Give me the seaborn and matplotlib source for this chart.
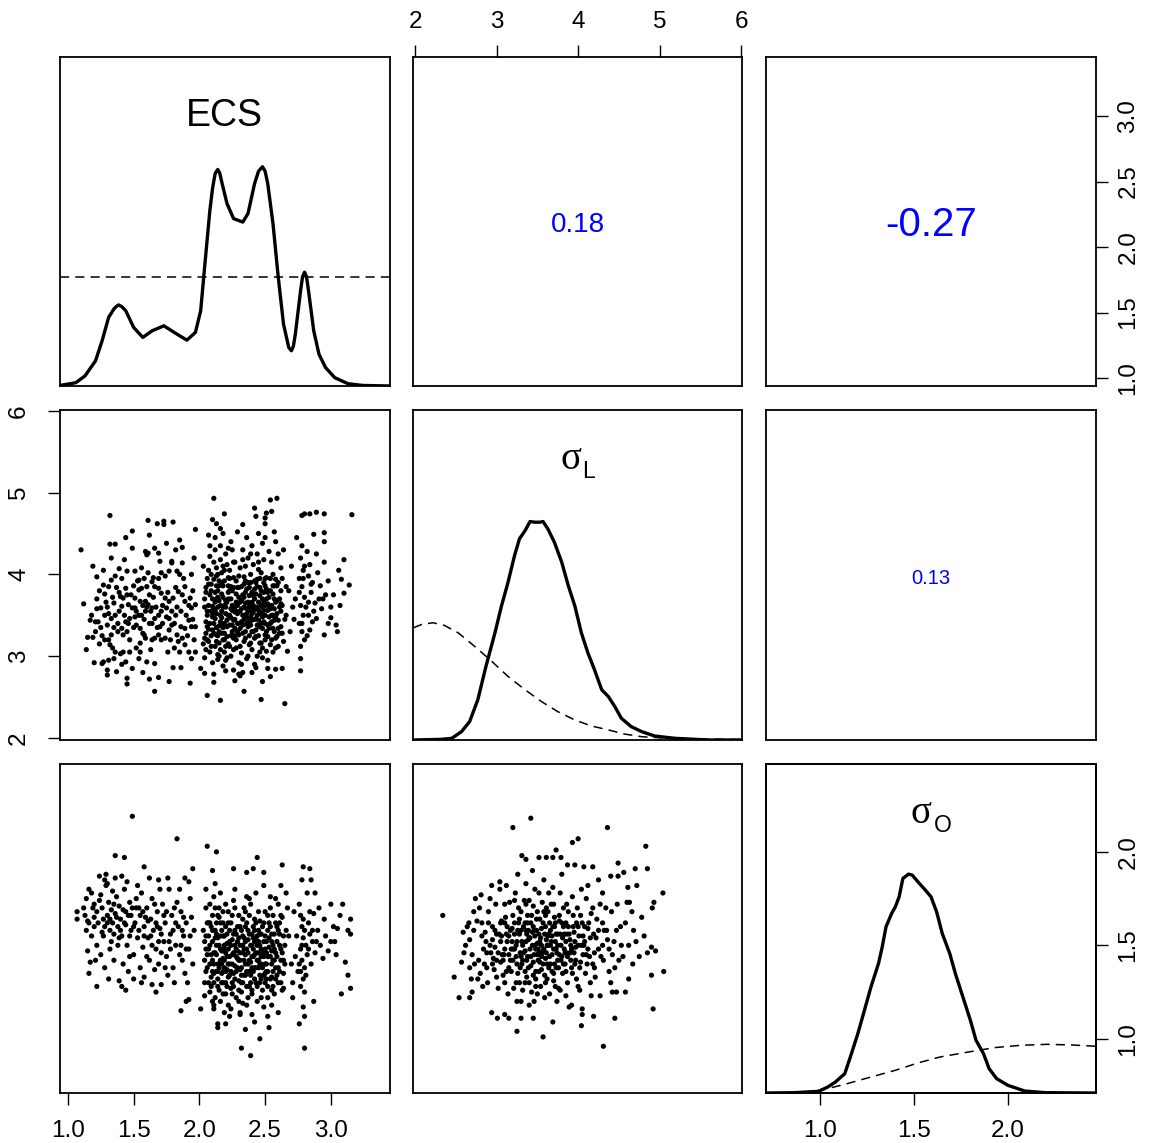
import matplotlib
matplotlib.use("Agg")
import matplotlib.pyplot as plt
import seaborn as sns

# ---------------- data ----------------
var_names = ["ECS", "sigma_L", "sigma_O"]
ecs_lim = (0.94, 3.45)
sigL_lim = (1.975, 6.01)
sigO_lim = (0.71, 2.47)

ecs_ticks = [1.0, 1.5, 2.0, 2.5, 3.0]
sigL_ticks = [2, 3, 4, 5, 6]
sigO_ticks = [1.0, 1.5, 2.0]

corr_ecs_sigL = "0.18"
corr_ecs_sigO = "-0.27"
corr_sigL_sigO = "0.13"

# posterior densities (diagonal)
ecs_grid = [0.94, 1.06, 1.13, 1.21, 1.26, 1.31, 1.35, 1.37, 1.385, 1.41, 1.44, 1.50, 1.57, 1.64, 1.73,
            1.82, 1.905, 1.97, 2.01, 2.04, 2.08, 2.10, 2.12, 2.14, 2.155, 2.17, 2.21, 2.26, 2.33, 2.37,
            2.42, 2.45, 2.48, 2.50, 2.52, 2.56, 2.60, 2.64, 2.68, 2.70, 2.715, 2.73, 2.77, 2.785, 2.80,
            2.815, 2.83, 2.87, 2.91, 2.96, 3.03, 3.13, 3.24, 3.45]
ecs_dens = [0.003, 0.017, 0.052, 0.13, 0.233, 0.355, 0.398, 0.412, 0.419, 0.410, 0.389, 0.303, 0.251, 0.285, 0.311,
            0.272, 0.237, 0.277, 0.389, 0.614, 0.908, 1.02, 1.098, 1.119, 1.10, 1.055, 0.943, 0.865, 0.847, 0.891,
            1.046, 1.11, 1.133, 1.11, 1.046, 0.839, 0.562, 0.320, 0.199, 0.182, 0.205, 0.268, 0.493, 0.565, 0.588,
            0.565, 0.493, 0.285, 0.164, 0.095, 0.043, 0.012, 0.003, 0.0]
ecs_prior_x = [0.94, 3.45]
ecs_prior_y = [0.562, 0.562]

sigL_grid = [1.98, 2.32, 2.45, 2.57, 2.67, 2.77, 2.87, 2.98, 3.06, 3.14, 3.22, 3.28, 3.35, 3.41, 3.47,
             3.53, 3.57, 3.63, 3.71, 3.80, 3.88, 3.96, 4.04, 4.12, 4.20, 4.29, 4.37, 4.45, 4.53, 4.65,
             4.78, 4.94, 5.19, 5.60, 6.01]
sigL_dens = [0.0, 0.003, 0.0076, 0.038, 0.084, 0.183, 0.335, 0.487, 0.609, 0.716, 0.838, 0.914, 0.952, 0.993, 0.990,
             0.990, 0.993, 0.959, 0.898, 0.807, 0.701, 0.609, 0.487, 0.396, 0.320, 0.228, 0.198, 0.152, 0.099, 0.061,
             0.038, 0.018, 0.0076, 0.0, 0.0]
sigL_prior_x = [1.98, 2.08, 2.22, 2.36, 2.53, 2.73, 2.94, 3.14, 3.35, 3.55, 3.75, 3.96, 4.16, 4.37, 4.57, 4.78, 5.19, 6.01]
sigL_prior_y = [0.510, 0.525, 0.533, 0.521, 0.487, 0.426, 0.358, 0.289, 0.228, 0.175, 0.129, 0.091, 0.064, 0.046,
                0.027, 0.015, 0.006, 0.002]

sigO_grid = [0.71, 0.86, 0.99, 1.04, 1.08, 1.13, 1.16, 1.20, 1.23, 1.27, 1.31, 1.33, 1.35, 1.38, 1.40,
             1.42, 1.44, 1.47, 1.49, 1.52, 1.56, 1.59, 1.62, 1.65, 1.69, 1.72, 1.76, 1.80, 1.83, 1.87,
             1.90, 1.94, 2.00, 2.09, 2.20, 2.47]
sigO_dens = [0.0, 0.003, 0.015, 0.055, 0.100, 0.176, 0.329, 0.542, 0.724, 0.968, 1.181, 1.333, 1.515, 1.637, 1.698,
             1.789, 1.956, 1.996, 1.987, 1.926, 1.850, 1.789, 1.652, 1.454, 1.272, 1.089, 0.876, 0.663, 0.481, 0.359,
             0.222, 0.131, 0.070, 0.018, 0.003, 0.0]
sigO_prior_x = [0.90, 1.0, 1.13, 1.27, 1.40, 1.52, 1.64, 1.79, 1.93, 2.07, 2.21, 2.34, 2.47]
sigO_prior_y = [0.008, 0.024, 0.079, 0.146, 0.207, 0.274, 0.329, 0.374, 0.414, 0.435, 0.444, 0.438, 0.426]

# scatter: ECS (x) vs sigma_L (y)
ecs_sigL_left = [
    (1.10, 4.30), (1.12, 3.64), (1.14, 3.08), (1.19, 4.10), (1.22, 3.97), (1.15, 3.23), (1.19, 3.23), (1.20, 2.92),
    (1.26, 2.91), (1.30, 2.83), (1.30, 2.77), (1.32, 4.72), (1.32, 4.37), (1.36, 4.37), (1.33, 4.20), (1.37, 2.81),
    (1.44, 4.45), (1.49, 4.53), (1.45, 2.73), (1.45, 2.66), (1.49, 2.85), (1.61, 4.66), (1.68, 4.62), (1.73, 4.65),
    (1.73, 4.61), (1.80, 4.64), (1.66, 2.57), (1.62, 2.72), (1.69, 2.74), (1.77, 2.69), (1.80, 2.86), (1.86, 2.86),
    (1.93, 2.67), (1.85, 4.42), (1.87, 4.33), (1.75, 4.38),
    (1.27, 3.87), (1.28, 3.76), (1.31, 3.85), (1.33, 3.93), (1.37, 3.84), (1.40, 3.73), (1.44, 3.83), (1.42, 3.71),
    (1.45, 3.75), (1.46, 3.63), (1.41, 3.61), (1.39, 3.55), (1.36, 3.50), (1.33, 3.46), (1.31, 3.52), (1.28, 3.50),
    (1.25, 3.59), (1.22, 3.58), (1.21, 3.42), (1.23, 3.42), (1.30, 3.38), (1.33, 3.26), (1.31, 3.20), (1.32, 3.14),
    (1.36, 3.05), (1.40, 3.03), (1.42, 3.05), (1.44, 2.93), (1.41, 2.90), (1.35, 2.97), (1.31, 2.95), (1.27, 2.93),
    (1.42, 3.26), (1.45, 3.30), (1.41, 3.34), (1.44, 3.42), (1.47, 3.46), (1.51, 3.48), (1.54, 3.50), (1.56, 3.50),
    (1.52, 3.38), (1.55, 3.34), (1.58, 3.26), (1.55, 3.16), (1.55, 3.05), (1.54, 2.97), (1.60, 2.93), (1.66, 2.91),
    (1.59, 3.22), (1.64, 3.20), (1.66, 3.22), (1.69, 3.26), (1.71, 3.20), (1.74, 3.22), (1.64, 3.40), (1.66, 3.46),
    (1.69, 3.50), (1.71, 3.55), (1.75, 3.59), (1.79, 3.55), (1.82, 3.50), (1.77, 3.46), (1.79, 3.38), (1.77, 3.32),
    (1.83, 3.26), (1.87, 3.22), (1.84, 3.18), (1.85, 3.05), (1.89, 3.14), (1.92, 3.05), (1.94, 2.97), (1.97, 3.05),
    (1.89, 3.34), (1.94, 3.36), (1.97, 3.36), (1.92, 3.44), (1.94, 3.59), (1.97, 3.63), (1.93, 3.71), (1.89, 3.67),
    (1.87, 3.75), (1.84, 3.79), (1.80, 3.71), (1.77, 3.67), (1.74, 3.71), (1.71, 3.77), (1.69, 3.83), (1.66, 3.85),
    (1.64, 3.91), (1.60, 3.85), (1.56, 3.83), (1.54, 3.81), (1.51, 3.71), (1.55, 3.67), (1.59, 3.67), (1.61, 3.63),
    (1.64, 3.59), (1.63, 3.55), (1.59, 3.55), (1.51, 3.59), (1.49, 3.59), (1.54, 3.93), (1.58, 3.95), (1.61, 4.02),
    (1.60, 4.24), (1.66, 4.32), (1.69, 4.26), (1.70, 4.16), (1.71, 4.02), (1.69, 3.95), (1.74, 3.98), (1.77, 4.04),
    (1.79, 4.14), (1.83, 4.04), (1.85, 4.00), (1.87, 4.14), (1.79, 4.16), (1.89, 3.85), (1.94, 4.00), (1.96, 4.20),
    (1.51, 4.04), (1.45, 4.04), (1.39, 4.07), (1.56, 4.08), (1.61, 4.26), (1.36, 3.98), (1.49, 4.32), (1.59, 4.28),
    (1.17, 3.44), (1.22, 3.70), (1.25, 3.35), (1.18, 3.50), (1.28, 3.20), (1.24, 3.80), (1.35, 3.65), (1.38, 3.40),
    (1.47, 3.20), (1.50, 3.35), (1.52, 3.10), (1.58, 3.45), (1.62, 3.75), (1.67, 3.60), (1.72, 3.40), (1.76, 3.05),
    (1.81, 3.10), (1.90, 3.50), (1.83, 3.60), (1.95, 3.80),
    (1.30, 3.60), (1.34, 3.72), (1.38, 3.30), (1.43, 3.50), (1.48, 3.75), (1.52, 3.55), (1.57, 3.62), (1.62, 3.40),
    (1.65, 3.72), (1.68, 3.35), (1.72, 3.62), (1.76, 3.78), (1.81, 3.40), (1.86, 3.55), (1.91, 3.25), (1.95, 3.45),
    (1.26, 3.25), (1.47, 3.05), (1.63, 3.08), (1.78, 3.20), (1.88, 3.95), (1.53, 3.92), (1.41, 3.95), (1.35, 3.35),
    (1.24, 3.15),
    (1.21, 3.30), (1.29, 3.66), (1.34, 3.10), (1.39, 3.78), (1.46, 3.40), (1.50, 3.86), (1.57, 3.28), (1.60, 3.60),
    (1.65, 3.96), (1.70, 3.36), (1.75, 3.48), (1.82, 3.84), (1.86, 3.36), (1.92, 3.62), (1.96, 3.20), (1.43, 4.18),
    (1.62, 4.48), (1.82, 4.30), (1.27, 4.05), (1.57, 2.80)]
ecs_sigL_mid = [
    (1.97, 4.55), (2.11, 4.93), (2.19, 4.74), (2.10, 4.67), (2.13, 4.62), (2.16, 4.56), (2.06, 2.52), (2.16, 2.46),
    (2.34, 2.57), (2.47, 2.47), (2.65, 2.42), (2.54, 4.91), (2.59, 4.93), (2.42, 4.81), (2.43, 4.71), (2.51, 4.75),
    (2.55, 4.77), (2.50, 4.62), (2.50, 4.69), (2.57, 4.52), (2.29, 4.52), (2.33, 4.61), (2.67, 3.06), (2.52, 2.85),
    (2.58, 2.84), (2.63, 2.85), (2.48, 2.69), (2.54, 2.75), (2.27, 2.70), (2.31, 2.76), (2.33, 2.80), (2.11, 2.68),
    (2.11, 2.78), (2.01, 2.85), (2.04, 2.79),
    (2.03, 3.15), (2.05, 3.42), (2.04, 3.70), (2.06, 3.95), (2.05, 3.28), (2.03, 4.10), (2.06, 3.55), (2.04, 2.98),
    (2.08, 3.05), (2.07, 3.33), (2.10, 3.61), (2.09, 3.88), (2.08, 4.22), (2.10, 3.48), (2.07, 3.18), (2.09, 4.00),
    (2.08, 3.75), (2.10, 2.92), (2.12, 3.12), (2.14, 3.25), (2.11, 3.40), (2.13, 3.52), (2.12, 3.66), (2.14, 3.80),
    (2.11, 3.94), (2.13, 4.08), (2.12, 4.30), (2.14, 3.02), (2.11, 3.58), (2.13, 3.35), (2.12, 4.45), (2.16, 3.08),
    (2.18, 3.20), (2.15, 3.37), (2.17, 3.47), (2.16, 3.62), (2.18, 3.72), (2.15, 3.86), (2.17, 4.02), (2.16, 4.18),
    (2.18, 2.88), (2.15, 3.30), (2.17, 3.55), (2.16, 4.35), (2.20, 2.95), (2.22, 3.15), (2.19, 3.28), (2.21, 3.44),
    (2.20, 3.60), (2.22, 3.78), (2.19, 3.92), (2.21, 4.12), (2.22, 3.50), (2.19, 3.05), (2.20, 4.25), (2.24, 3.00),
    (2.26, 3.22), (2.23, 3.38), (2.25, 3.56), (2.24, 3.70), (2.26, 3.84), (2.23, 4.05), (2.25, 3.30), (2.24, 4.40),
    (2.26, 2.83), (2.28, 3.10), (2.30, 3.26), (2.27, 3.45), (2.29, 3.62), (2.28, 3.76), (2.30, 3.98), (2.27, 4.15),
    (2.29, 3.52), (2.30, 2.92), (2.32, 3.04), (2.34, 3.18), (2.31, 3.34), (2.33, 3.50), (2.32, 3.68), (2.34, 3.88),
    (2.31, 4.08), (2.33, 4.30), (2.34, 3.60), (2.36, 2.97), (2.38, 3.14), (2.35, 3.30), (2.37, 3.46), (2.36, 3.58),
    (2.38, 3.74), (2.35, 3.92), (2.37, 4.20), (2.38, 3.40), (2.36, 4.45), (2.40, 3.08), (2.42, 3.22), (2.39, 3.38),
    (2.41, 3.54), (2.40, 3.66), (2.42, 3.82), (2.39, 4.00), (2.41, 4.12), (2.40, 4.35), (2.42, 2.90), (2.39, 3.48),
    (2.44, 3.00), (2.46, 3.16), (2.43, 3.32), (2.45, 3.44), (2.44, 3.60), (2.46, 3.74), (2.43, 3.90), (2.45, 4.06),
    (2.44, 4.25), (2.46, 3.52), (2.43, 2.86), (2.48, 3.10), (2.50, 3.26), (2.47, 3.40), (2.49, 3.56), (2.48, 3.70),
    (2.50, 3.86), (2.47, 4.02), (2.49, 4.18), (2.48, 4.38), (2.50, 3.20), (2.47, 3.62), (2.52, 2.95), (2.54, 3.14),
    (2.51, 3.30), (2.53, 3.48), (2.52, 3.64), (2.54, 3.80), (2.51, 3.96), (2.53, 4.28), (2.52, 3.38), (2.56, 3.05),
    (2.58, 3.22), (2.55, 3.42), (2.57, 3.58), (2.56, 3.76), (2.58, 3.94), (2.55, 4.15), (2.57, 3.30), (2.60, 3.12),
    (2.62, 3.36), (2.59, 3.52), (2.61, 3.70), (2.60, 3.90), (2.62, 4.08), (2.59, 3.24), (2.64, 3.18), (2.65, 3.45),
    (2.63, 3.62), (2.66, 3.85), (2.64, 4.30),
    (2.05, 3.08), (2.06, 3.36), (2.07, 3.62), (2.05, 3.84), (2.09, 3.25), (2.10, 3.52), (2.09, 3.80), (2.11, 4.15),
    (2.13, 3.18), (2.12, 3.46), (2.14, 3.72), (2.13, 3.98), (2.15, 3.00), (2.17, 3.28), (2.16, 3.42), (2.18, 3.60),
    (2.17, 3.90), (2.19, 4.05), (2.19, 3.20), (2.21, 3.36), (2.20, 3.68), (2.22, 3.86), (2.23, 3.12), (2.24, 3.47),
    (2.25, 3.62), (2.23, 3.95), (2.26, 3.08), (2.27, 3.34), (2.28, 3.55), (2.29, 3.84), (2.30, 3.40), (2.31, 3.12),
    (2.32, 3.42), (2.33, 3.75), (2.34, 3.97), (2.35, 3.22), (2.36, 3.52), (2.37, 3.66), (2.38, 3.84), (2.39, 3.16),
    (2.40, 3.44), (2.41, 3.74), (2.42, 3.92), (2.43, 3.24), (2.44, 3.38), (2.45, 3.66), (2.46, 3.84), (2.47, 3.16),
    (2.48, 3.48), (2.49, 3.78), (2.50, 3.95), (2.51, 3.06), (2.52, 3.56), (2.53, 3.72), (2.54, 3.40), (2.55, 3.20),
    (2.56, 3.50), (2.57, 3.86), (2.58, 3.66), (2.60, 3.44), (2.61, 3.60), (2.62, 3.80), (2.63, 3.28), (2.20, 2.82),
    (2.30, 2.78), (2.40, 2.80), (2.50, 4.45), (2.45, 4.50), (2.25, 4.30), (2.18, 4.50), (2.60, 4.25), (2.08, 4.35),
    (2.35, 4.10),
    (2.04, 3.22), (2.06, 3.50), (2.05, 3.78), (2.07, 4.05), (2.08, 3.40), (2.09, 3.12), (2.10, 3.70), (2.11, 3.28),
    (2.12, 3.56), (2.13, 3.86), (2.14, 3.60), (2.15, 3.16), (2.16, 3.50), (2.17, 3.76), (2.18, 4.10), (2.19, 3.40),
    (2.20, 3.12), (2.21, 3.66), (2.22, 3.96), (2.23, 3.50), (2.24, 3.25), (2.25, 3.80), (2.26, 4.15), (2.27, 3.60),
    (2.28, 3.20), (2.29, 3.40), (2.30, 3.72), (2.31, 3.55), (2.32, 3.85), (2.33, 3.28), (2.34, 3.45), (2.35, 3.65),
    (2.36, 3.82), (2.37, 3.36), (2.38, 3.56), (2.39, 3.90), (2.40, 3.30), (2.41, 3.62), (2.42, 3.45), (2.43, 3.76),
    (2.44, 3.50), (2.45, 3.25), (2.46, 3.95), (2.47, 3.52), (2.48, 3.34), (2.49, 3.66), (2.50, 3.50), (2.51, 3.82),
    (2.52, 3.24), (2.53, 3.60), (2.54, 3.95), (2.55, 3.50), (2.56, 3.34), (2.57, 3.70), (2.58, 3.48), (2.59, 3.86),
    (2.61, 3.28), (2.62, 3.55), (2.13, 3.70), (2.24, 3.85), (2.37, 3.00), (2.46, 3.05), (2.21, 2.98), (2.56, 4.00),
    (2.33, 4.18), (2.45, 4.15), (2.28, 3.92), (2.15, 3.92), (2.40, 3.78), (2.50, 3.62), (2.35, 3.48), (2.26, 3.44),
    (2.18, 3.35), (2.42, 3.58), (2.31, 3.66), (2.49, 3.42), (2.38, 3.25), (2.44, 3.85), (2.27, 3.25), (2.52, 3.78),
    (2.04, 3.60), (2.06, 3.20), (2.07, 3.88), (2.09, 3.55), (2.10, 3.32), (2.12, 3.78), (2.13, 3.26), (2.14, 4.00),
    (2.15, 3.68), (2.17, 3.38), (2.18, 3.86), (2.20, 3.52), (2.21, 3.24), (2.22, 3.70), (2.24, 3.58), (2.25, 3.38),
    (2.26, 3.96), (2.28, 3.66), (2.29, 3.30), (2.30, 3.84), (2.32, 3.58), (2.33, 3.38), (2.34, 3.72), (2.36, 3.40),
    (2.37, 3.90), (2.38, 3.62), (2.40, 3.52), (2.41, 3.30), (2.42, 3.70), (2.44, 3.94), (2.45, 3.56), (2.46, 3.36),
    (2.47, 3.80), (2.48, 3.60), (2.50, 3.40), (2.51, 3.70), (2.53, 3.34), (2.54, 3.58), (2.56, 3.86), (2.57, 3.44),
    (2.59, 3.68), (2.60, 3.34), (2.62, 3.64), (2.63, 3.95), (2.19, 3.62), (2.23, 3.80), (2.27, 3.54), (2.35, 3.78),
    (2.39, 3.60), (2.43, 3.46), (2.49, 3.90), (2.55, 3.62), (2.58, 3.10), (2.22, 4.32), (2.39, 4.25), (2.14, 2.96),
    (2.32, 2.90), (2.48, 2.98), (2.58, 4.40), (2.07, 4.48)]
ecs_sigL_right = [
    (2.78, 4.72), (2.80, 4.74), (2.84, 4.74), (2.89, 4.76), (2.95, 4.74), (3.16, 4.73), (2.87, 4.49), (2.95, 4.51),
    (2.95, 4.40), (3.10, 4.18), (3.06, 4.05), (3.08, 3.94), (3.14, 3.87), (3.10, 3.77), (3.07, 3.62), (3.04, 3.38),
    (3.05, 3.30), (3.00, 3.60), (3.00, 3.47), (2.98, 3.40), (2.95, 3.26), (2.77, 2.82), (2.77, 2.97),
    (2.78, 4.35), (2.77, 4.20), (2.79, 4.05), (2.76, 3.95), (2.78, 3.85), (2.80, 3.72), (2.77, 3.62), (2.79, 3.50),
    (2.76, 3.40), (2.78, 3.30), (2.80, 3.20), (2.77, 3.12), (2.82, 4.28), (2.84, 4.12), (2.83, 3.98), (2.86, 3.90),
    (2.85, 3.78), (2.83, 3.66), (2.87, 3.55), (2.86, 3.42), (2.84, 3.32), (2.90, 4.02), (2.92, 3.86), (2.91, 3.70),
    (2.93, 3.58), (2.89, 3.46), (2.96, 3.75), (2.98, 3.92), (2.74, 4.45), (2.73, 3.70), (2.72, 3.45), (2.95, 4.15),
    (2.89, 4.25), (3.02, 3.75), (2.66, 3.50), (2.68, 3.80), (2.70, 4.10), (2.69, 3.30), (2.71, 3.60),
    (2.79, 3.95), (2.81, 3.60), (2.78, 3.40), (2.83, 3.50), (2.80, 4.10), (2.85, 3.88), (2.88, 3.65), (2.82, 3.25),
    (2.94, 3.70), (2.76, 3.78)]

# scatter: ECS (x) vs sigma_O (y)
ecs_sigO_left = [
    (1.49, 2.19), (1.83, 2.07), (1.36, 1.98), (1.43, 1.97), (1.58, 1.92), (1.24, 1.87), (1.29, 1.88), (1.28, 1.85),
    (1.30, 1.83), (1.36, 1.86), (1.41, 1.87), (1.69, 1.85), (1.95, 1.91), (1.89, 1.86), (1.07, 1.68), (1.07, 1.64),
    (1.15, 1.63), (1.15, 1.47), (1.17, 1.41), (1.16, 1.35), (1.22, 1.28), (1.31, 1.32), (1.39, 1.31), (1.41, 1.28),
    (1.44, 1.26), (1.56, 1.30), (1.67, 1.25), (1.64, 1.29), (1.71, 1.29), (1.86, 1.15), (1.90, 1.20), (1.92, 1.21),
    (1.12, 1.70), (1.14, 1.75), (1.16, 1.80), (1.18, 1.78), (1.20, 1.72), (1.22, 1.68), (1.24, 1.74), (1.26, 1.70),
    (1.27, 1.64), (1.28, 1.60), (1.30, 1.66), (1.31, 1.73), (1.33, 1.69), (1.34, 1.62), (1.35, 1.56), (1.36, 1.67),
    (1.37, 1.76), (1.38, 1.60), (1.39, 1.71), (1.40, 1.64), (1.41, 1.55), (1.42, 1.69), (1.43, 1.80), (1.44, 1.61),
    (1.45, 1.50), (1.46, 1.66), (1.47, 1.73), (1.48, 1.58), (1.50, 1.45), (1.51, 1.62), (1.52, 1.70), (1.53, 1.54),
    (1.55, 1.66), (1.56, 1.78), (1.57, 1.49), (1.58, 1.60), (1.60, 1.70), (1.61, 1.54), (1.62, 1.42), (1.63, 1.64),
    (1.64, 1.75), (1.65, 1.58), (1.67, 1.48), (1.68, 1.68), (1.69, 1.40), (1.70, 1.59), (1.72, 1.72), (1.73, 1.52),
    (1.74, 1.62), (1.75, 1.44), (1.77, 1.80), (1.78, 1.56), (1.79, 1.66), (1.80, 1.38), (1.82, 1.50), (1.83, 1.73),
    (1.84, 1.60), (1.85, 1.45), (1.86, 1.68), (1.88, 1.55), (1.89, 1.35), (1.90, 1.62), (1.92, 1.48), (1.93, 1.75),
    (1.95, 1.40), (1.96, 1.58), (1.18, 1.55), (1.20, 1.60), (1.22, 1.50), (1.25, 1.45), (1.28, 1.38), (1.32, 1.48),
    (1.35, 1.42), (1.38, 1.50), (1.42, 1.40), (1.46, 1.36), (1.50, 1.32), (1.55, 1.38), (1.58, 1.33), (1.60, 1.44),
    (1.66, 1.37), (1.71, 1.46), (1.76, 1.34), (1.81, 1.30), (1.87, 1.42), (1.91, 1.30), (1.14, 1.58), (1.16, 1.62),
    (1.29, 1.82), (1.34, 1.79), (1.45, 1.84), (1.53, 1.82), (1.62, 1.86), (1.70, 1.80), (1.76, 1.86), (1.85, 1.80),
    (1.92, 1.84), (1.25, 1.77), (1.32, 1.58), (1.48, 1.66), (1.57, 1.68), (1.66, 1.72), (1.86, 1.50),
    (1.20, 1.65), (1.26, 1.57), (1.30, 1.62), (1.33, 1.52), (1.37, 1.65), (1.40, 1.58), (1.44, 1.68), (1.47, 1.55),
    (1.50, 1.60), (1.54, 1.70), (1.58, 1.55), (1.61, 1.63), (1.64, 1.50), (1.67, 1.62), (1.71, 1.56), (1.75, 1.68),
    (1.78, 1.48), (1.82, 1.62), (1.88, 1.65), (1.93, 1.55), (1.23, 1.62), (1.35, 1.72), (1.52, 1.75), (1.69, 1.52),
    (1.80, 1.58),
    (1.13, 1.66), (1.19, 1.70), (1.27, 1.55), (1.32, 1.64), (1.39, 1.54), (1.43, 1.62), (1.49, 1.70), (1.54, 1.58),
    (1.59, 1.65), (1.63, 1.55), (1.68, 1.60), (1.73, 1.66), (1.77, 1.52), (1.81, 1.70), (1.87, 1.58), (1.94, 1.65),
    (1.21, 1.42), (1.47, 1.44), (1.74, 1.38), (1.90, 1.48)]
ecs_sigO_mid = [
    (2.06, 2.03), (2.13, 2.00), (2.44, 1.97), (2.10, 1.90), (2.26, 1.91), (2.36, 1.89), (2.41, 1.91), (2.49, 1.89),
    (2.63, 1.93), (2.01, 1.16), (2.04, 1.23), (2.11, 1.16), (2.11, 1.18), (2.14, 1.08), (2.14, 1.06), (2.20, 1.08),
    (2.19, 1.14), (2.23, 1.12), (2.32, 0.95), (2.39, 0.91), (2.35, 1.05), (2.46, 1.00), (2.42, 1.09), (2.52, 1.12),
    (2.53, 1.06), (2.31, 1.13), (2.31, 1.14), (2.63, 1.26), (2.60, 1.14), (2.55, 1.18), (2.49, 1.17), (2.40, 1.13),
    (2.36, 1.18),
    (2.04, 1.30), (2.06, 1.45), (2.03, 1.58), (2.05, 1.70), (2.06, 1.38), (2.04, 1.52), (2.05, 1.80), (2.08, 1.25),
    (2.10, 1.36), (2.07, 1.48), (2.09, 1.60), (2.08, 1.72), (2.10, 1.42), (2.07, 1.55), (2.09, 1.33), (2.12, 1.22),
    (2.14, 1.32), (2.11, 1.40), (2.13, 1.50), (2.12, 1.58), (2.14, 1.66), (2.11, 1.76), (2.13, 1.45), (2.14, 1.28),
    (2.12, 1.83), (2.16, 1.20), (2.18, 1.30), (2.15, 1.38), (2.17, 1.47), (2.16, 1.55), (2.18, 1.62), (2.15, 1.70),
    (2.17, 1.35), (2.18, 1.43), (2.16, 1.78), (2.20, 1.24), (2.22, 1.33), (2.19, 1.42), (2.21, 1.51), (2.20, 1.60),
    (2.22, 1.68), (2.19, 1.48), (2.21, 1.37), (2.22, 1.18), (2.24, 1.27), (2.26, 1.35), (2.23, 1.44), (2.25, 1.53),
    (2.24, 1.62), (2.26, 1.74), (2.23, 1.40), (2.25, 1.30), (2.28, 1.22), (2.30, 1.31), (2.27, 1.39), (2.29, 1.47),
    (2.28, 1.56), (2.30, 1.66), (2.27, 1.80), (2.29, 1.43), (2.32, 1.25), (2.34, 1.34), (2.31, 1.42), (2.33, 1.50),
    (2.32, 1.58), (2.34, 1.70), (2.31, 1.37), (2.33, 1.19), (2.36, 1.28), (2.38, 1.36), (2.35, 1.45), (2.37, 1.53),
    (2.36, 1.62), (2.38, 1.75), (2.35, 1.40), (2.37, 1.22), (2.40, 1.24), (2.42, 1.32), (2.39, 1.41), (2.41, 1.48),
    (2.40, 1.56), (2.42, 1.64), (2.39, 1.72), (2.41, 1.36), (2.42, 1.52), (2.44, 1.20), (2.46, 1.30), (2.43, 1.38),
    (2.45, 1.46), (2.44, 1.55), (2.46, 1.63), (2.43, 1.78), (2.45, 1.42), (2.46, 1.34), (2.48, 1.26), (2.50, 1.35),
    (2.47, 1.44), (2.49, 1.52), (2.48, 1.60), (2.50, 1.68), (2.47, 1.40), (2.49, 1.82), (2.52, 1.22), (2.54, 1.32),
    (2.51, 1.40), (2.53, 1.49), (2.52, 1.58), (2.54, 1.70), (2.51, 1.36), (2.56, 1.28), (2.58, 1.38), (2.55, 1.47),
    (2.57, 1.56), (2.56, 1.66), (2.58, 1.75), (2.55, 1.33), (2.60, 1.30), (2.62, 1.42), (2.59, 1.52), (2.61, 1.62),
    (2.60, 1.72), (2.62, 1.82), (2.64, 1.35), (2.65, 1.50), (2.63, 1.65), (2.66, 1.78), (2.64, 1.27),
    (2.05, 1.36), (2.06, 1.62), (2.08, 1.50), (2.09, 1.28), (2.10, 1.66), (2.11, 1.35), (2.12, 1.54), (2.13, 1.62),
    (2.14, 1.40), (2.15, 1.26), (2.16, 1.48), (2.17, 1.58), (2.18, 1.36), (2.19, 1.55), (2.20, 1.30), (2.21, 1.44),
    (2.22, 1.62), (2.23, 1.34), (2.24, 1.50), (2.25, 1.24), (2.26, 1.46), (2.27, 1.58), (2.28, 1.36), (2.29, 1.52),
    (2.30, 1.42), (2.31, 1.60), (2.32, 1.30), (2.33, 1.46), (2.34, 1.54), (2.35, 1.34), (2.36, 1.48), (2.37, 1.58),
    (2.38, 1.42), (2.39, 1.30), (2.40, 1.50), (2.41, 1.60), (2.42, 1.38), (2.43, 1.46), (2.44, 1.28), (2.45, 1.58),
    (2.46, 1.50), (2.47, 1.32), (2.48, 1.46), (2.49, 1.62), (2.50, 1.40), (2.51, 1.52), (2.52, 1.28), (2.53, 1.44),
    (2.54, 1.60), (2.55, 1.40), (2.56, 1.50), (2.57, 1.24), (2.58, 1.62), (2.59, 1.44), (2.60, 1.58), (2.61, 1.36),
    (2.62, 1.66), (2.63, 1.46), (2.65, 1.40), (2.66, 1.58),
    (2.04, 1.42), (2.05, 1.55), (2.07, 1.30), (2.08, 1.62), (2.09, 1.45), (2.10, 1.52), (2.11, 1.30), (2.12, 1.46),
    (2.13, 1.56), (2.14, 1.36), (2.15, 1.50), (2.16, 1.42), (2.17, 1.30), (2.18, 1.55), (2.19, 1.38), (2.20, 1.46),
    (2.21, 1.56), (2.22, 1.40), (2.23, 1.52), (2.24, 1.36), (2.25, 1.45), (2.26, 1.56), (2.27, 1.32), (2.28, 1.48),
    (2.29, 1.38), (2.30, 1.54), (2.31, 1.46), (2.32, 1.38), (2.33, 1.55), (2.34, 1.42), (2.35, 1.52), (2.36, 1.36),
    (2.37, 1.46), (2.38, 1.56), (2.39, 1.34), (2.40, 1.44), (2.41, 1.54), (2.42, 1.45), (2.43, 1.30), (2.44, 1.50),
    (2.45, 1.38), (2.46, 1.56), (2.47, 1.48), (2.48, 1.38), (2.49, 1.44), (2.50, 1.55), (2.51, 1.46), (2.52, 1.36),
    (2.53, 1.54), (2.54, 1.44), (2.55, 1.56), (2.56, 1.42), (2.57, 1.48), (2.58, 1.32), (2.59, 1.60), (2.60, 1.38),
    (2.61, 1.50), (2.62, 1.30), (2.64, 1.55), (2.15, 1.65), (2.25, 1.66), (2.35, 1.68), (2.45, 1.68), (2.20, 1.72),
    (2.40, 1.26), (2.30, 1.26), (2.50, 1.30), (2.55, 1.26), (2.10, 1.20), (2.33, 1.64), (2.43, 1.62), (2.27, 1.70),
    (2.52, 1.66), (2.18, 1.24), (2.38, 1.66),
    (2.05, 1.48), (2.07, 1.62), (2.08, 1.40), (2.10, 1.58), (2.11, 1.46), (2.13, 1.36), (2.14, 1.54), (2.16, 1.62),
    (2.17, 1.40), (2.19, 1.50), (2.20, 1.36), (2.22, 1.48), (2.23, 1.58), (2.25, 1.40), (2.26, 1.28), (2.28, 1.44),
    (2.29, 1.60), (2.31, 1.50), (2.32, 1.34), (2.34, 1.48), (2.35, 1.60), (2.37, 1.40), (2.38, 1.28), (2.40, 1.38),
    (2.41, 1.44), (2.43, 1.54), (2.44, 1.42), (2.46, 1.40), (2.47, 1.56), (2.49, 1.34), (2.50, 1.48), (2.52, 1.44),
    (2.53, 1.62), (2.55, 1.52), (2.56, 1.36), (2.58, 1.46), (2.59, 1.34), (2.61, 1.56), (2.62, 1.48), (2.64, 1.42),
    (2.21, 1.28), (2.27, 1.50), (2.33, 1.30), (2.39, 1.50), (2.45, 1.52), (2.51, 1.32), (2.57, 1.42), (2.18, 1.68),
    (2.42, 1.58), (2.30, 1.20), (2.47, 1.22), (2.24, 1.16), (2.36, 1.76), (2.54, 1.76), (2.12, 1.70)]
ecs_sigO_right = [
    (2.79, 1.92), (2.84, 1.91), (2.78, 1.85), (2.85, 1.85), (2.88, 1.78), (3.00, 1.72), (3.09, 1.72), (3.15, 1.64),
    (3.05, 1.59), (3.13, 1.58), (3.15, 1.56), (3.11, 1.41), (3.13, 1.34), (3.15, 1.27), (3.08, 1.24), (2.80, 0.95),
    (2.76, 1.08), (2.80, 1.12), (2.79, 1.17), (2.87, 1.20), (2.71, 1.22),
    (2.76, 1.72), (2.77, 1.66), (2.78, 1.60), (2.79, 1.54), (2.77, 1.48), (2.78, 1.42), (2.80, 1.38), (2.79, 1.32),
    (2.77, 1.28), (2.81, 1.50), (2.82, 1.45), (2.83, 1.62), (2.84, 1.56), (2.85, 1.40), (2.86, 1.52), (2.88, 1.46),
    (2.90, 1.58), (2.92, 1.50), (2.94, 1.43), (2.96, 1.55), (2.98, 1.47), (3.00, 1.52), (3.02, 1.60), (3.04, 1.45),
    (2.74, 1.55), (2.73, 1.44), (2.72, 1.68), (2.75, 1.36), (2.80, 1.25), (2.82, 1.78), (2.87, 1.67), (2.91, 1.70),
    (2.95, 1.64), (3.03, 1.52), (3.07, 1.66), (2.68, 1.55), (2.70, 1.40), (2.67, 1.70), (2.71, 1.30),
    (2.78, 1.50), (2.80, 1.58), (2.76, 1.40), (2.83, 1.48), (2.79, 1.64), (2.86, 1.58), (2.81, 1.34), (2.89, 1.52),
    (2.77, 1.36), (2.84, 1.68)]

# scatter: sigma_L (x) vs sigma_O (y)
sigL_sigO_outer = [
    (2.34, 1.66), (2.48, 1.33), (2.54, 1.22), (2.67, 1.22), (3.20, 2.13), (3.42, 2.18), (4.36, 2.13), (3.93, 2.05),
    (4.00, 2.07), (4.83, 2.03), (3.73, 2.01), (4.49, 1.94), (4.85, 1.91), (4.70, 1.91), (4.56, 1.89), (5.04, 1.78),
    (4.93, 1.73), (4.91, 1.70), (4.61, 1.81), (4.72, 1.82), (4.63, 1.73), (4.66, 1.68), (4.71, 1.52), (4.81, 1.55),
    (4.85, 1.46), (4.90, 1.49), (4.95, 1.47), (5.05, 1.36), (4.90, 1.34), (4.92, 1.16), (4.67, 1.40), (4.58, 1.25),
    (4.45, 1.11), (4.31, 0.96), (4.04, 1.07), (4.19, 1.12), (3.57, 1.01), (3.25, 1.04), (3.69, 1.09), (3.45, 1.11),
    (2.94, 1.14), (3.01, 1.11), (3.10, 1.13), (3.15, 1.11), (3.30, 1.11), (2.72, 1.68), (2.81, 1.77), (2.94, 1.82),
    (3.04, 1.84), (3.31, 1.98), (3.36, 1.96), (3.52, 1.97), (3.61, 1.97), (3.69, 1.97), (3.79, 1.97), (3.87, 1.93),
    (3.96, 1.93), (4.07, 1.92), (4.18, 1.92), (4.40, 1.87), (4.49, 1.87), (4.25, 1.85), (4.60, 1.73), (4.42, 1.25),
    (4.47, 1.25), (4.27, 1.23), (4.16, 1.23), (4.05, 1.16), (4.05, 1.13), (3.89, 1.17), (2.64, 1.60), (2.59, 1.57),
    (2.67, 1.53), (2.57, 1.41), (2.67, 1.38), (2.69, 1.32), (2.77, 1.32),
    (2.62, 1.50), (2.70, 1.45), (2.72, 1.58), (2.66, 1.62), (2.73, 1.40), (2.60, 1.46), (2.70, 1.25), (2.74, 1.75)]
sigL_sigO_core = [
    (2.78, 1.42), (2.82, 1.55), (2.76, 1.63), (2.84, 1.48), (2.80, 1.35), (2.79, 1.70), (2.83, 1.28),
    (2.88, 1.38), (2.93, 1.46), (2.87, 1.52), (2.95, 1.60), (2.90, 1.68), (2.92, 1.75), (2.89, 1.30), (2.96, 1.43),
    (2.86, 1.57), (3.00, 1.33), (3.05, 1.41), (2.98, 1.49), (3.03, 1.56), (3.06, 1.63), (2.99, 1.72), (3.02, 1.27),
    (3.04, 1.80), (3.07, 1.45), (2.97, 1.37), (3.10, 1.30), (3.15, 1.38), (3.09, 1.45), (3.13, 1.52), (3.17, 1.58),
    (3.11, 1.65), (3.16, 1.73), (3.12, 1.82), (3.14, 1.24), (3.18, 1.48), (3.08, 1.42), (3.21, 1.27), (3.26, 1.35),
    (3.20, 1.42), (3.24, 1.50), (3.28, 1.56), (3.22, 1.62), (3.27, 1.70), (3.23, 1.78), (3.25, 1.20), (3.29, 1.46),
    (3.19, 1.59), (3.26, 1.88), (3.32, 1.26), (3.37, 1.33), (3.31, 1.40), (3.35, 1.47), (3.39, 1.53), (3.33, 1.60),
    (3.38, 1.66), (3.34, 1.74), (3.36, 1.83), (3.40, 1.18), (3.30, 1.44), (3.37, 1.56), (3.39, 1.38), (3.43, 1.25),
    (3.48, 1.32), (3.42, 1.39), (3.46, 1.45), (3.50, 1.51), (3.44, 1.57), (3.49, 1.64), (3.45, 1.71), (3.47, 1.80),
    (3.44, 1.90), (3.51, 1.48), (3.41, 1.54), (3.48, 1.36), (3.46, 1.20), (3.54, 1.28), (3.59, 1.34), (3.53, 1.41),
    (3.57, 1.47), (3.61, 1.53), (3.55, 1.59), (3.60, 1.66), (3.56, 1.73), (3.58, 1.85), (3.62, 1.50), (3.52, 1.56),
    (3.59, 1.22), (3.55, 1.44), (3.65, 1.24), (3.70, 1.31), (3.64, 1.38), (3.68, 1.45), (3.72, 1.52), (3.66, 1.58),
    (3.71, 1.65), (3.67, 1.72), (3.69, 1.81), (3.73, 1.48), (3.63, 1.55), (3.70, 1.35), (3.76, 1.27), (3.81, 1.35),
    (3.75, 1.42), (3.79, 1.50), (3.83, 1.56), (3.77, 1.63), (3.82, 1.70), (3.78, 1.78), (3.80, 1.88), (3.84, 1.46),
    (3.74, 1.20), (3.87, 1.30), (3.92, 1.38), (3.86, 1.46), (3.90, 1.53), (3.94, 1.60), (3.88, 1.68), (3.93, 1.76),
    (3.91, 1.42), (3.95, 1.57), (3.85, 1.23), (3.98, 1.32), (4.03, 1.41), (3.97, 1.49), (4.01, 1.55), (4.05, 1.62),
    (3.99, 1.70), (4.04, 1.80), (4.02, 1.26), (4.06, 1.45), (4.09, 1.35), (4.14, 1.44), (4.08, 1.52), (4.12, 1.59),
    (4.16, 1.67), (4.10, 1.75), (4.15, 1.30), (4.20, 1.38), (4.25, 1.48), (4.19, 1.56), (4.23, 1.64), (4.27, 1.72),
    (4.21, 1.33), (4.31, 1.42), (4.36, 1.53), (4.30, 1.62), (4.34, 1.70), (4.38, 1.36), (4.42, 1.45), (4.47, 1.58),
    (4.41, 1.68), (4.45, 1.38), (4.53, 1.50), (4.58, 1.62), (4.55, 1.44),
    (3.15, 1.55), (3.20, 1.48), (3.25, 1.40), (3.28, 1.64), (3.32, 1.50), (3.35, 1.36), (3.36, 1.58), (3.38, 1.44),
    (3.42, 1.62), (3.44, 1.50), (3.45, 1.41), (3.47, 1.55), (3.50, 1.45), (3.50, 1.68), (3.53, 1.52), (3.55, 1.37),
    (3.57, 1.62), (3.58, 1.48), (3.60, 1.43), (3.61, 1.70), (3.63, 1.50), (3.65, 1.62), (3.66, 1.40), (3.68, 1.55),
    (3.70, 1.48), (3.71, 1.60), (3.73, 1.38), (3.75, 1.56), (3.77, 1.45), (3.80, 1.62), (3.82, 1.40), (3.85, 1.52),
    (3.88, 1.60), (3.90, 1.46), (3.93, 1.35), (3.96, 1.52), (4.00, 1.60), (4.02, 1.38), (4.06, 1.55), (4.10, 1.45),
    (3.05, 1.52), (3.10, 1.62), (3.00, 1.42), (2.95, 1.53), (3.12, 1.36), (3.22, 1.74), (3.30, 1.68), (3.40, 1.74),
    (3.52, 1.78), (3.62, 1.32), (3.72, 1.28), (3.40, 1.30), (3.28, 1.30), (3.86, 1.72), (4.13, 1.62),
    (2.92, 1.50), (2.98, 1.58), (3.02, 1.46), (3.06, 1.55), (3.10, 1.48), (3.13, 1.60), (3.17, 1.42), (3.19, 1.52),
    (3.22, 1.56), (3.24, 1.44), (3.27, 1.62), (3.29, 1.38), (3.31, 1.52), (3.33, 1.46), (3.35, 1.62), (3.37, 1.42),
    (3.39, 1.58), (3.41, 1.48), (3.43, 1.66), (3.45, 1.34), (3.47, 1.50), (3.49, 1.58), (3.51, 1.42), (3.53, 1.64),
    (3.55, 1.50), (3.57, 1.40), (3.59, 1.56), (3.61, 1.46), (3.63, 1.68), (3.65, 1.44), (3.67, 1.52), (3.69, 1.60),
    (3.71, 1.40), (3.73, 1.56), (3.75, 1.50), (3.77, 1.66), (3.79, 1.42), (3.81, 1.54), (3.83, 1.48), (3.85, 1.62),
    (3.87, 1.44), (3.89, 1.56), (3.91, 1.50), (3.94, 1.66), (3.97, 1.42), (4.00, 1.50), (4.03, 1.66), (4.07, 1.50),
    (4.11, 1.40), (4.15, 1.54), (4.20, 1.46), (4.25, 1.58), (4.30, 1.50), (3.20, 1.66), (3.30, 1.58), (3.45, 1.60),
    (3.58, 1.68), (3.70, 1.72), (3.48, 1.28), (3.60, 1.30), (3.35, 1.30), (3.85, 1.36), (3.95, 1.46), (3.25, 1.52),
    (3.40, 1.54), (3.52, 1.46), (3.64, 1.56), (3.76, 1.38), (3.82, 1.60), (3.15, 1.45), (3.05, 1.62), (2.90, 1.62),
    (2.85, 1.40), (4.18, 1.70), (4.35, 1.58),
    (2.95, 1.40), (3.00, 1.56), (3.08, 1.34), (3.12, 1.56), (3.18, 1.36), (3.22, 1.48), (3.26, 1.58), (3.32, 1.42),
    (3.36, 1.52), (3.38, 1.62), (3.42, 1.44), (3.46, 1.58), (3.48, 1.48), (3.52, 1.36), (3.54, 1.54), (3.56, 1.46),
    (3.60, 1.60), (3.62, 1.40), (3.66, 1.50), (3.68, 1.36), (3.72, 1.62), (3.74, 1.46), (3.78, 1.56), (3.80, 1.44),
    (3.84, 1.40), (3.86, 1.56), (3.92, 1.48), (3.96, 1.40), (3.98, 1.62), (4.04, 1.50), (4.08, 1.60), (4.12, 1.48),
    (4.18, 1.40), (4.22, 1.54), (4.28, 1.44), (4.32, 1.58), (4.38, 1.48), (4.44, 1.52), (4.50, 1.42), (4.52, 1.60),
    (4.62, 1.50), (4.68, 1.58), (4.75, 1.44), (4.78, 1.65), (4.62, 1.32), (4.40, 1.30), (4.48, 1.72), (4.30, 1.78),
    (4.12, 1.82), (3.64, 1.78), (3.36, 1.72), (3.10, 1.72), (2.88, 1.46), (2.82, 1.62), (3.24, 1.30), (3.50, 1.24),
    (3.78, 1.26), (4.00, 1.28), (3.92, 1.18), (3.30, 1.20)]

# ---------------- figure ----------------
sns.set_style("white")
plt.rcParams["font.family"] = ["Liberation Sans", "DejaVu Sans"]
plt.rcParams["text.color"] = "black"

W, H = 1149, 1143
fig = plt.figure(figsize=(W / 100, H / 100), dpi=100)
fig.patch.set_facecolor("white")

col_px = [(60, 390), (413, 742), (766, 1096)]
row_px = [(57, 386), (410, 740), (764, 1093)]

base_tick = dict(length=8.5, width=1.0, labelsize=17.5, colors="black", direction="out")
BLUE = "#0000FF"


def make_panel(c, r):
    x0, x1 = col_px[c]
    y0, y1 = row_px[r]
    ax = fig.add_axes([x0 / W, 1 - y1 / H, (x1 - x0) / W, (y1 - y0) / H])
    ax.set_facecolor("white")
    for s in ax.spines.values():
        s.set_visible(True)
        s.set_color("black")
        s.set_linewidth(1.3)
    ax.set_xticks([])
    ax.set_yticks([])
    ax.grid(False)
    return ax


def scat(ax, pts):
    xs = [p[0] for p in pts]
    ys = [p[1] for p in pts]
    sns.scatterplot(x=xs, y=ys, ax=ax, s=14, color="black", edgecolor="none", linewidth=0, legend=False)


def curve(ax, xs, ys, dashed=False):
    if dashed:
        sns.lineplot(x=xs, y=ys, ax=ax, color="black", linewidth=1.1, linestyle=(0, (6, 4)),
                     sort=False, estimator=None, legend=False)
    else:
        sns.lineplot(x=xs, y=ys, ax=ax, color="black", linewidth=2.4, sort=False, estimator=None,
                     legend=False, solid_joinstyle="round")


def rot_labels(ax):
    for lab in ax.get_yticklabels():
        lab.set_va("center")


axes = [[make_panel(c, r) for c in range(3)] for r in range(3)]

# --- diagonal panels ---
ax = axes[0][0]
curve(ax, ecs_grid, ecs_dens)
curve(ax, ecs_prior_x, ecs_prior_y, dashed=True)
ax.set_xlim(ecs_lim)
ax.set_ylim(0, 1.7)
ax.text(0.497, 1 - 59 / 329, "ECS", transform=ax.transAxes, ha="center", va="center", fontsize=27)

ax = axes[1][1]
curve(ax, sigL_grid, sigL_dens)
curve(ax, sigL_prior_x, sigL_prior_y, dashed=True)
ax.set_xlim(sigL_lim)
ax.set_ylim(0, 1.5)
ax.text(0.5 + 4 / 329, 1 - 59 / 330, "σ", transform=ax.transAxes, ha="right", va="baseline",
        fontsize=28, family=["Liberation Serif", "DejaVu Serif"])
ax.text(0.5 + 5 / 329, 1 - 68 / 330, "L", transform=ax.transAxes, ha="left", va="baseline", fontsize=16.5)

ax = axes[2][2]
curve(ax, sigO_grid, sigO_dens)
curve(ax, sigO_prior_x, sigO_prior_y, dashed=True)
ax.set_xlim(sigO_lim)
ax.set_ylim(0, 3.0)
ax.text(0.5 + 1 / 330, 1 - 59 / 329, "σ", transform=ax.transAxes, ha="right", va="baseline",
        fontsize=28, family=["Liberation Serif", "DejaVu Serif"])
ax.text(0.5 + 3 / 330, 1 - 68 / 329, "O", transform=ax.transAxes, ha="left", va="baseline", fontsize=16.5)

# --- lower scatter panels ---
ax = axes[1][0]
scat(ax, ecs_sigL_left)
scat(ax, ecs_sigL_mid)
scat(ax, ecs_sigL_right)
ax.set_xlim(ecs_lim)
ax.set_ylim(sigL_lim)

ax = axes[2][0]
scat(ax, ecs_sigO_left)
scat(ax, ecs_sigO_mid)
scat(ax, ecs_sigO_right)
ax.set_xlim(ecs_lim)
ax.set_ylim(sigO_lim)

ax = axes[2][1]
scat(ax, sigL_sigO_outer)
scat(ax, sigL_sigO_core)
ax.set_xlim(sigL_lim)
ax.set_ylim(sigO_lim)

# --- upper correlation panels ---
ax = axes[0][1]
ax.set_xlim(sigL_lim)
ax.set_ylim(ecs_lim)
ax.text(0.5, 0.488, corr_ecs_sigL, transform=ax.transAxes, ha="center", va="center", fontsize=20, color=BLUE)

ax = axes[0][2]
ax.set_xlim(sigO_lim)
ax.set_ylim(ecs_lim)
ax.text(0.5, 0.488, corr_ecs_sigO, transform=ax.transAxes, ha="center", va="center", fontsize=29, color=BLUE)

ax = axes[1][2]
ax.set_xlim(sigO_lim)
ax.set_ylim(sigL_lim)
ax.text(0.5, 0.488, corr_sigL_sigO, transform=ax.transAxes, ha="center", va="center", fontsize=14.5, color=BLUE)

# --- outer axes, R pairs style ---
# top axis of column 2 (sigma_L)
ax = axes[0][1]
ax.set_xticks(sigL_ticks)
ax.set_xticklabels([str(t) for t in sigL_ticks])
ax.tick_params(axis="x", bottom=False, labelbottom=False, top=True, labeltop=True, pad=9, **base_tick)

# right axis of row 1 (ECS)
ax = axes[0][2]
ax.set_yticks(ecs_ticks)
ax.set_yticklabels([f"{t:.1f}" for t in ecs_ticks])
ax.tick_params(axis="y", left=False, labelleft=False, right=True, labelright=True, labelrotation=90,
               pad=7, **base_tick)
rot_labels(ax)

# left axis of row 2 (sigma_L)
ax = axes[1][0]
ax.set_yticks(sigL_ticks)
ax.set_yticklabels([str(t) for t in sigL_ticks])
ax.tick_params(axis="y", left=True, labelleft=True, labelrotation=90, pad=13, **base_tick)
rot_labels(ax)

# bottom axis of column 1 (ECS)
ax = axes[2][0]
ax.set_xticks(ecs_ticks)
ax.set_xticklabels([f"{t:.1f}" for t in ecs_ticks])
ax.tick_params(axis="x", bottom=True, labelbottom=True, pad=11, **base_tick)

# bottom axis of column 3 (sigma_O)
ax = axes[2][2]
ax.set_xticks(sigO_ticks)
ax.set_xticklabels([f"{t:.1f}" for t in sigO_ticks])
ax.tick_params(axis="x", bottom=True, labelbottom=True, pad=11, **base_tick)

# right axis of row 3 (sigma_O), drawn on a twin of the diagonal panel
tw = ax.twinx()
tw.set_ylim(sigO_lim)
tw.set_yticks(sigO_ticks)
tw.set_yticklabels([f"{t:.1f}" for t in sigO_ticks])
tw.tick_params(axis="y", left=False, labelleft=False, right=True, labelright=True, labelrotation=90,
               pad=7, **base_tick)
for s in tw.spines.values():
    s.set_color("black")
    s.set_linewidth(1.3)
tw.grid(False)
rot_labels(tw)

fig.savefig("out.png", dpi=100, facecolor="white")
